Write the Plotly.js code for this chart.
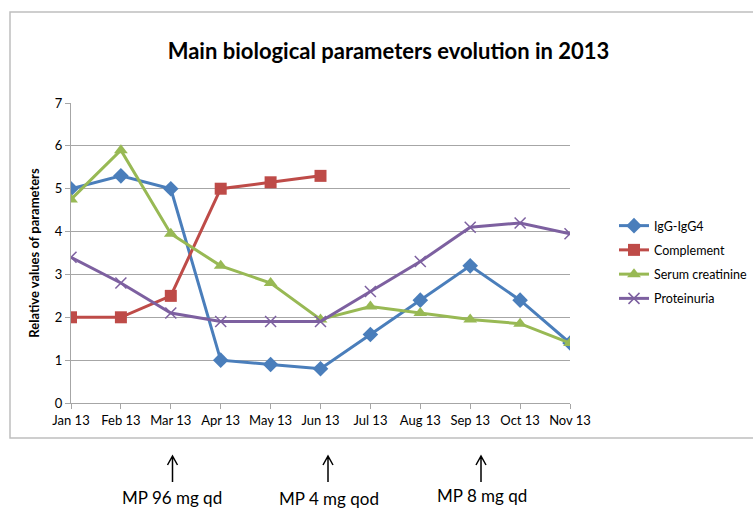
<!DOCTYPE html>
<html>
<head>
<meta charset="utf-8">
<script src="https://cdn.plot.ly/plotly-3.0.1.min.js"></script>
<style>html,body{margin:0;padding:0;background:#fff;}#chart{width:753px;height:511px;}</style>
</head>
<body>
<div id="chart"></div>
<script>
var months = ["Jan 13","Feb 13","Mar 13","Apr 13","May 13","Jun 13","Jul 13","Aug 13","Sep 13","Oct 13","Nov 13"];
var igg = [5, 5.3, 5, 1, 0.9, 0.8, 1.6, 2.4, 3.2, 2.4, 1.4];
var complement = [2, 2, 2.5, 5, 5.15, 5.3, null, null, null, null, null];
var creatinine = [4.75, 5.9, 3.95, 3.2, 2.8, 1.95, 2.25, 2.1, 1.95, 1.85, 1.4];
var proteinuria = [3.4, 2.8, 2.1, 1.9, 1.9, 1.9, 2.6, 3.3, 4.1, 4.2, 3.95];
var seriesNames = ["IgG-IgG4", "Complement", "Serum creatinine", "Proteinuria"];
var treatments = ["MP 96 mg qd", "MP 4 mg qod", "MP 8 mg qd"];

var FONT = "Lato, 'Open Sans', sans-serif";
var colors = ["#4A7EBB", "#BE4B48", "#98B954", "#7D60A0"];
var symbols = ["diamond", "square", "triangle-up", "x-thin-open"];
var sizes = [12, 12, 12, 11];
var data = [igg, complement, creatinine, proteinuria].map(function(v, i){
  return {
    x: months, y: v, name: seriesNames[i], type: "scatter", mode: "lines+markers",
    legendgroup: "g" + i,
    line: {color: colors[i], width: 3},
    marker: {symbol: symbols[i], size: sizes[i], color: colors[i], line: {color: colors[i], width: i === 3 ? 1.5 : 0}},
    connectgaps: false
  };
});

var W = 499, H = 300, L = 71, T = 103;
function px(x){ return (x - L) / W; }
function py(y){ return (T + H - y) / H; }

var annotations = [];
var shapes = [{type: "rect", xref: "paper", yref: "paper", x0: px(10), x1: px(770), y0: py(438), y1: py(12),
    line: {color: "#BFBFBF", width: 1.5}, layer: "below"}];
var arrowX = [172.5, 328, 481];
var labelX = [171.5, 329, 482];
var labelY = [497, 498, 495];
treatments.forEach(function(t, i){
  var xa = arrowX[i];
  var path = "M" + px(xa) + "," + py(482) + " L" + px(xa) + "," + py(456) +
             " M" + px(xa - 5) + "," + py(465) + " L" + px(xa) + "," + py(456) + " L" + px(xa + 5) + "," + py(465);
  shapes.push({type: "path", xref: "paper", yref: "paper", path: path, line: {color: "#000", width: 1.5}});
  annotations.push({xref: "paper", yref: "paper", x: px(labelX[i]), y: py(labelY[i]), text: t, showarrow: false,
    font: {family: FONT, size: 17, color: "#000"}, xanchor: "center", yanchor: "middle"});
});

var layout = {
  width: 753, height: 511,
  margin: {l: L, r: 753 - L - W, t: T, b: 511 - T - H, pad: 0, autoexpand: false},
  paper_bgcolor: "#fff", plot_bgcolor: "#fff",
  font: {family: FONT, color: "#000", size: 12},
  title: {text: "<b>Main biological parameters evolution in 2013</b>", font: {family: FONT, size: 22, color: "#000"},
    x: 0.516, xanchor: "center", y: 0.9, yanchor: "middle"},
  xaxis: {type: "category", range: [0, 10], showgrid: false, zeroline: false,
    showline: true, linecolor: "#A6A6A6", linewidth: 1, ticks: "outside", ticklen: 5, tickcolor: "#A6A6A6",
    tickfont: {size: 13, family: FONT}, fixedrange: true, automargin: false},
  yaxis: {range: [0, 7], dtick: 1, showgrid: true, gridcolor: "#A6A6A6", gridwidth: 1, zeroline: false,
    showline: true, linecolor: "#A6A6A6", linewidth: 1, ticks: "outside", ticklen: 5, tickcolor: "#A6A6A6",
    tickfont: {size: 13, family: FONT}, automargin: false,
    title: {text: "<b>Relative values of parameters</b>", font: {size: 13, family: FONT}, standoff: 12}},
  legend: {x: px(614), y: py(211), xanchor: "left", yanchor: "top", tracegroupgap: 5,
    font: {size: 12.5, family: FONT}, bgcolor: "rgba(0,0,0,0)", itemwidth: 30},
  showlegend: true,
  annotations: annotations,
  shapes: shapes
};

Plotly.newPlot("chart", data, layout, {displayModeBar: false, staticPlot: true});
</script>
</body>
</html>
